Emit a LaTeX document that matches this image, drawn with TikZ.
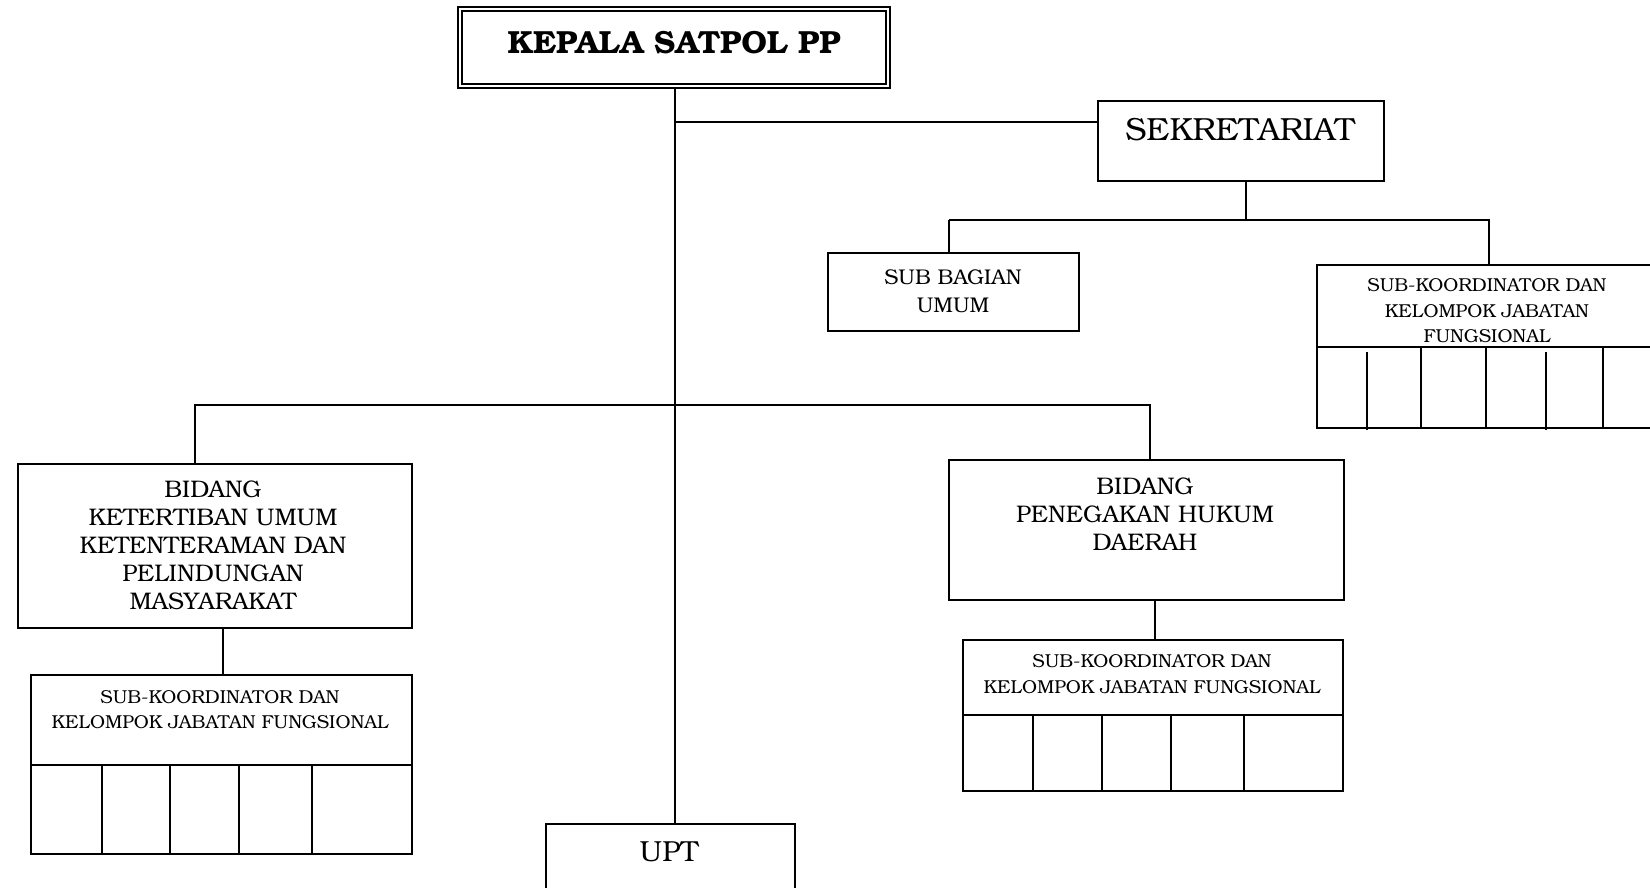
\documentclass[tikz,border=0pt]{standalone}
\usepackage{fontspec}
\setmainfont{texgyrebonum}[Extension=.otf, UprightFont=*-regular, BoldFont=*-bold]
\begin{document}
\begin{tikzpicture}[x=1pt,y=-1pt,
  box/.style={draw, line width=1.6pt, inner sep=0pt, anchor=north west},
  ln/.style={line width=1.6pt},
  cell/.style={line width=1.6pt},
  kepf/.style={font=\fontsize{32}{36}\selectfont\bfseries, inner sep=0pt},
  sekf/.style={font=\fontsize{32}{36}\selectfont, inner sep=0pt},
  bidf/.style={font=\fontsize{24}{28}\selectfont, align=center, inner sep=0pt},
  subf/.style={font=\fontsize{21.3}{28}\selectfont, align=center, inner sep=0pt},
  skf/.style={font=\fontsize{18.7}{25.5}\selectfont, align=center, inner sep=0pt},
  uptf/.style={font=\fontsize{29}{32}\selectfont, inner sep=0pt}]
\useasboundingbox (0,0) rectangle (1650,888);

% KEPALA
\node[box, line width=2.2pt, minimum width=432pt, minimum height=81pt] (kep) at (457,6) {};
\draw[line width=1.5pt] ([shift={(5pt,-5pt)}]kep.north west) rectangle ([shift={(-5pt,5pt)}]kep.south east);
\node[kepf] (kept) at (674,43) {KEPALA SATPOL PP};

% SEKRETARIAT
\node[box, minimum width=286pt, minimum height=80pt] (sek) at (1097,100) {};
\node[sekf] (sekt) at (1240,130) {SEKRETARIAT};

% SUB BAGIAN UMUM
\node[box, minimum width=251pt, minimum height=78pt] (sub) at (827,252) {};
\node[subf] (subt) at (953,291) {SUB BAGIAN\\UMUM};

% SUB-KOORDINATOR (Sekretariat)
\node[box, minimum width=344pt, minimum height=163pt] (sk1) at (1316,264) {};
\node[skf] (sk1t) at (1487,311) {SUB-KOORDINATOR DAN\\KELOMPOK JABATAN\\FUNGSIONAL};
\draw[cell] (sk1.west |- 0,347) -- (sk1.east |- 0,347);
\foreach \x in {1421,1486,1603} \draw[cell] (\x,347) -- (\x,427);
\foreach \x in {1367,1546} \draw[cell] (\x,352) -- (\x,430);

% BIDANG KETERTIBAN
\node[box, minimum width=394pt, minimum height=164pt] (bid1) at (17,463) {};
\node[bidf] (bid1t) at (213,545) {BIDANG\\KETERTIBAN UMUM\\KETENTERAMAN DAN\\PELINDUNGAN\\MASYARAKAT};

% SUB-KOORDINATOR (Bidang 1)
\node[box, minimum width=381pt, minimum height=179pt] (sk2) at (30,674) {};
\node[skf, font=\fontsize{18.7}{25}\selectfont] (sk2t) at (220,709.5) {SUB-KOORDINATOR DAN\\KELOMPOK JABATAN FUNGSIONAL};
\draw[cell] (sk2.west |- 0,765) -- (sk2.east |- 0,765);
\foreach \x in {102,170,239,312} \draw[cell] (\x,765) -- (\x,0 |- sk2.south);

% BIDANG PENEGAKAN
\node[box, minimum width=395pt, minimum height=140pt] (bid2) at (948,459) {};
\node[bidf] (bid2t) at (1145,514.5) {BIDANG\\PENEGAKAN HUKUM\\DAERAH};

% SUB-KOORDINATOR (Bidang 2)
\node[box, minimum width=380pt, minimum height=151pt] (sk3) at (962,639) {};
\node[skf, font=\fontsize{18.7}{26}\selectfont] (sk3t) at (1152,674) {SUB-KOORDINATOR DAN\\KELOMPOK JABATAN FUNGSIONAL};
\draw[cell] (sk3.west |- 0,715) -- (sk3.east |- 0,715);
\foreach \x in {1033,1102,1171,1244} \draw[cell] (\x,715) -- (\x,0 |- sk3.south);

% UPT
\node[box, minimum width=249pt, minimum height=90pt] (upt) at (545,823) {};
\node[uptf] (uptt) at (669,852) {UPT};

% Connectors
\coordinate (jA) at (675,122);
\coordinate (jB) at (1246,220);
\coordinate (jC) at (675,405);
\draw[ln] (jA |- kep.south) -- (jA |- upt.north);
\draw[ln] (jA) -- (jA -| sek.west);
\draw[ln] (jB |- sek.south) -- (jB);
\draw[ln] (949,220) -- (sub.north -| 949,0);
\draw[ln] (949,220) -- (sk1.north |- jB) -- (sk1.north);
\draw[ln] (195,0 |- bid1.north) -- (195,405) -- (1150,405) -- (1150,0 |- bid2.north);
\draw[ln] (223,0 |- bid1.south) -- (223,0 |- sk2.north);
\draw[ln] (1155,0 |- bid2.south) -- (1155,0 |- sk3.north);
\end{tikzpicture}
\end{document}
